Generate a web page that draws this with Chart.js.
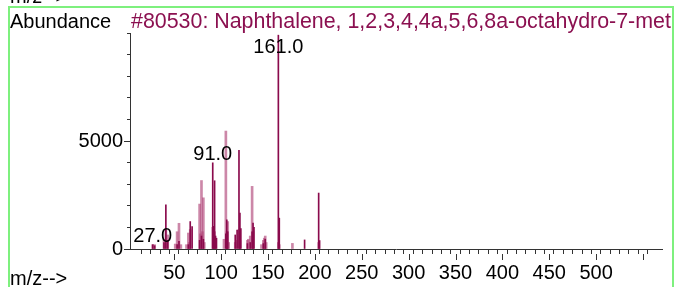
<!DOCTYPE html>
<html>
<head>
<meta charset="utf-8">
<script src="https://cdn.jsdelivr.net/npm/chart.js@4.4.1/dist/chart.umd.min.js"></script>
<style>
  body { margin: 0; background: #fff; }
  canvas { display: block; }
</style>
</head>
<body>
<canvas id="spectrum" width="677" height="287"></canvas>
<script>
// m/z values and abundances
const hitMz =    [27, 29, 39, 41, 43, 53, 55, 65, 67, 69, 77, 79, 81, 91, 92, 93, 94, 95, 105, 106, 107, 115, 117, 119, 120, 121, 128, 131, 133, 134, 135, 145, 147, 161, 162, 189, 204, 205];
const hitAbund = [200, 150, 300, 2050, 400, 200, 350, 200, 1270, 1040, 400, 600, 450, 3990, 1050, 3160, 600, 500, 700, 1350, 800, 650, 880, 4570, 1660, 950, 250, 300, 800, 1200, 1000, 250, 450, 9900, 1430, 420, 2590, 390];

const refMz =    [27, 29, 39, 40, 41, 43, 51, 53, 55, 57, 63, 65, 66, 67, 77, 78, 79, 80, 81, 82, 91, 92, 93, 103, 105, 106, 107, 108, 115, 117, 119, 120, 128, 129, 131, 133, 134, 143, 145, 146, 147, 148, 161, 162, 176, 204];
const refAbund = [200, 200, 450, 250, 900, 650, 230, 800, 1190, 200, 200, 740, 300, 900, 2080, 700, 3170, 800, 2370, 300, 1000, 700, 800, 450, 5460, 800, 1270, 300, 300, 400, 900, 400, 400, 450, 600, 2900, 800, 200, 400, 500, 600, 300, 300, 200, 260, 300];

const peakLabels = [27, 91, 161];
const xLabels = [50, 100, 150, 200, 250, 300, 350, 400, 450, 500];
const xMajor = [50, 100, 150, 200, 250, 300, 350, 400, 450, 500, 550];
const yLabels = [0, 5000];

const titleText = "#80530: Naphthalene, 1,2,3,4,4a,5,6,8a-octahydro-7-met";

const FAMILY = "'Liberation Sans', Arial, sans-serif";
const FONT = "20px " + FAMILY;

function toPoints(xs, ys) {
  return xs.map((x, i) => ({ x: x, y: ys[i] }));
}

// texts, longer major ticks and the green frame
const decorPlugin = {
  id: 'decor',
  afterDraw(chart) {
    const ctx = chart.ctx;
    const xs = chart.scales.x;
    const ys = chart.scales.y;
    const area = chart.chartArea;

    ctx.save();

    // major ticks a bit longer than the minor ones
    ctx.strokeStyle = '#333';
    ctx.lineWidth = 1;
    ctx.beginPath();
    xMajor.forEach(v => {
      const px = Math.round(xs.getPixelForValue(v)) + 0.5;
      ctx.moveTo(px, area.bottom + 5);
      ctx.lineTo(px, area.bottom + 11);
    });
    yLabels.forEach(v => {
      const py = Math.round(ys.getPixelForValue(v)) + 0.5;
      ctx.moveTo(area.left - 3, py);
      ctx.lineTo(area.left - 6, py);
    });
    ctx.stroke();

    ctx.font = FONT;
    ctx.textBaseline = 'alphabetic';
    ctx.fillStyle = '#000';
    ctx.textAlign = 'left';
    ctx.fillText('m/z-->', 10, 3);
    ctx.fillText('Abundance', 10, 28);
    ctx.fillText('m/z-->', 10, 285);

    // title, cut at the frame
    ctx.save();
    ctx.beginPath();
    ctx.rect(0, 0, 672, 287);
    ctx.clip();
    ctx.font = "21.4px " + FAMILY;
    ctx.fillStyle = '#8b1050';
    ctx.fillText(titleText, 131, 28);
    ctx.restore();

    // peak labels
    ctx.fillStyle = '#000';
    ctx.textAlign = 'center';
    peakLabels.forEach(mz => {
      const i = hitMz.indexOf(mz);
      const px = xs.getPixelForValue(mz);
      let py = ys.getPixelForValue(hitAbund[i]) - 3;
      if (py < area.top + 20) py = area.top + 20;
      ctx.fillText(mz.toFixed(1), px, py);
    });

    // frame
    ctx.strokeStyle = '#7ef07e';
    ctx.lineWidth = 2;
    ctx.beginPath();
    ctx.moveTo(9, 287);
    ctx.lineTo(9, 7);
    ctx.lineTo(673, 7);
    ctx.lineTo(673, 287);
    ctx.stroke();
    ctx.restore();
  }
};

function createChart(ctx) {
  const data = {
    datasets: [
      {
        label: 'hit',
        data: toPoints(hitMz, hitAbund),
        backgroundColor: '#8a0a4c',
        barThickness: 1,
        grouped: false,
      },
      {
        label: 'reference',
        data: toPoints(refMz, refAbund),
        backgroundColor: 'rgba(176, 70, 122, 0.65)',
        barThickness: 2,
        grouped: false,
      }
    ]
  };

  const options = {
    responsive: false,
    animation: false,
    devicePixelRatio: 1,
    layout: { padding: { top: 33, right: 15, left: 0, bottom: 0 } },
    plugins: {
      legend: { display: false },
      tooltip: { enabled: false }
    },
    scales: {
      x: {
        type: 'linear',
        min: 8,
        max: 565,
        afterFit(scale) { scale.height = 38; },
        afterBuildTicks(scale) {
          scale.ticks = scale.ticks.filter(t => t.value % 10 === 0);
        },
        grid: { drawOnChartArea: false, tickLength: 5, tickColor: '#333' },
        border: { color: '#333', width: 1 },
        ticks: {
          stepSize: 10,
          autoSkip: false,
          maxRotation: 0,
          padding: 7,
          color: '#000',
          font: { family: FAMILY, size: 20 },
          callback: v => xLabels.includes(v) ? String(v) : ''
        }
      },
      y: {
        min: 0,
        max: 10000,
        afterFit(scale) { scale.width = 130; },
        grid: { drawOnChartArea: false, tickLength: 3, tickColor: '#333' },
        border: { color: '#333', width: 1 },
        ticks: {
          stepSize: 1000,
          autoSkip: false,
          padding: 4,
          color: '#000',
          font: { family: FAMILY, size: 20 },
          callback: v => yLabels.includes(v) ? String(v) : ''
        }
      }
    }
  };

  new Chart(ctx, { type: 'bar', data, options, plugins: [decorPlugin] });
}

createChart(document.getElementById('spectrum'));
</script>
</body>
</html>
